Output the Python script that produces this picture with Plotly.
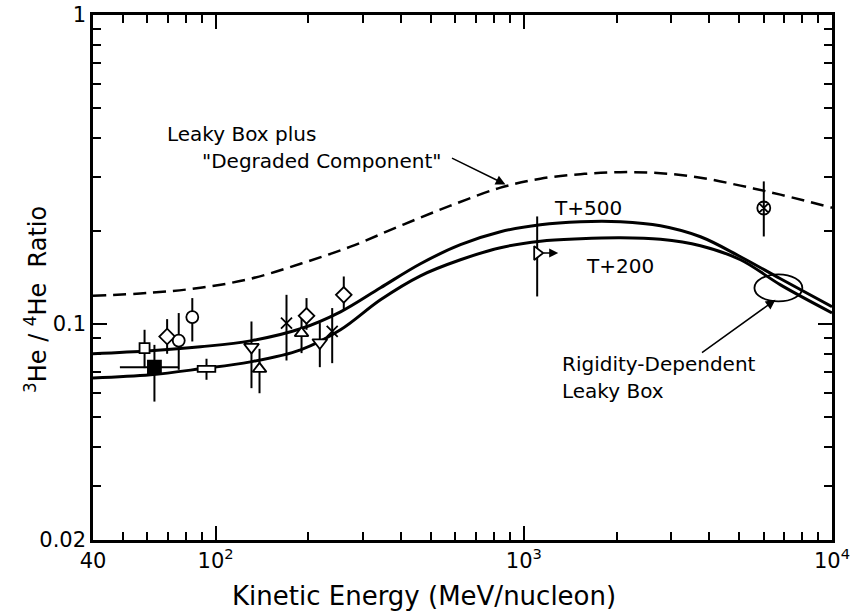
import math
import plotly.graph_objects as go

# ---------------- data ----------------
# Leaky Box plus "Degraded Component" (dashed)
x_lbdc = [40, 61.5, 89.3, 129.7, 188.6, 273.9, 397.9, 578, 839.8, 1132, 1527, 2059, 2776,
          3743, 5047, 6805, 10000]
y_lbdc = [0.1234, 0.1262, 0.1310, 0.1401, 0.1567, 0.1779, 0.2080, 0.2415, 0.2762, 0.2953,
          0.3054, 0.3100, 0.3077, 0.2976, 0.2804, 0.2622, 0.2379]

# Rigidity-dependent leaky box, T+500
x_t500 = [40, 61.5, 89.3, 129.7, 188.6, 254.2, 342.7, 462, 622.9, 839.8, 1132, 1527, 2059,
          2776, 3743, 5047, 6805, 10000]
y_t500 = [0.0801, 0.0819, 0.0844, 0.0882, 0.0965, 0.1095, 0.1310, 0.1567, 0.1806, 0.1989,
          0.2096, 0.2143, 0.2143, 0.2080, 0.1916, 0.1651, 0.1401, 0.1137]

# Rigidity-dependent leaky box, T+200
x_t200 = [40, 61.5, 89.3, 129.7, 188.6, 254.2, 342.7, 462, 622.9, 839.8, 1132, 1527, 2059,
          2776, 3743, 5047, 6805, 10000]
y_t200 = [0.0669, 0.0685, 0.0716, 0.0754, 0.0825, 0.0958, 0.1198, 0.1432, 0.1614, 0.1766,
          0.1854, 0.1888, 0.1902, 0.1881, 0.1792, 0.1614, 0.1339, 0.1087]

# measurements
pt_x = [58.8, 63.3, 69.6, 75.9, 84.0, 130.7, 138.8, 169.8, 190.0, 197.2, 217.8, 238.9, 260.5, 1105, 6007]
pt_y = [0.0836, 0.0725, 0.0911, 0.0884, 0.1053, 0.0842, 0.0716, 0.1007, 0.0934, 0.1063, 0.0871,
        0.0946, 0.1243, 0.1697, 0.2374]
pt_hi = [0.0958, 0.0856, 0.1037, 0.1085, 0.1213, 0.1019, 0.0831, 0.1243, 0.1057, 0.1213, 0.1007,
         0.1126, 0.1425, 0.2229, 0.2894]
pt_lo = [0.0720, 0.0561, 0.0801, 0.0711, 0.0878, 0.0620, 0.0597, 0.0762, 0.0805, 0.0958, 0.0725,
         0.0747, 0.1112, 0.1228, 0.1920]
pt_sym = ["square", "square", "diamond", "circle", "circle", "triangle-down", "triangle-up",
          "x-thin-open", "triangle-up", "diamond", "triangle-down", "x-thin-open", "diamond",
          "triangle-right", "circle-x-open"]
pt_size = [10, 13, 12, 12, 12, 13, 12, 11, 12, 12, 13, 11, 12, 12, 13]
pt_fill = ["white", "black", "white", "white", "white", "white", "white", "black", "white",
           "white", "white", "black", "white", "white", "black"]
# horizontal range for the filled square
sq_xlo, sq_xhi = 48.9, 75.9
# open rectangle point
rect_x, rect_y, rect_hi, rect_lo = 93.4, 0.0716, 0.0772, 0.0660
# lower-limit arrow point index
arrow_idx = 13
# ellipse around model prediction
ell_x, ell_y = 6700, 0.1309

x_tickvals = [40, 100, 1000, 10000]
x_ticktext = ["40", "10<sup>2</sup>", "10<sup>3</sup>", "10<sup>4</sup>"]
x_minor = [50, 60, 70, 80, 90, 200, 300, 400, 500, 600, 700, 800, 900,
           2000, 3000, 4000, 5000, 6000, 7000, 8000, 9000]
y_tickvals = [0.02, 0.1, 1]
y_ticktext = ["0.02", "0.1", "1"]
y_minor = [0.03, 0.04, 0.05, 0.06, 0.07, 0.08, 0.09, 0.2, 0.3, 0.4, 0.5, 0.6, 0.7, 0.8, 0.9]

FONT = "DejaVu Sans"

fig = go.Figure()

fig.add_trace(go.Scatter(x=x_lbdc, y=y_lbdc, mode="lines", line_shape="spline",
                         line=dict(color="black", width=2.5, dash="13px,7px"), showlegend=False))
fig.add_trace(go.Scatter(x=x_t500, y=y_t500, mode="lines", line_shape="spline",
                         line=dict(color="black", width=3), showlegend=False))
fig.add_trace(go.Scatter(x=x_t200, y=y_t200, mode="lines", line_shape="spline",
                         line=dict(color="black", width=3), showlegend=False))

# rectangle point error bar (drawn as a trace without marker)
fig.add_trace(go.Scatter(x=[rect_x], y=[rect_y], mode="markers",
                         marker=dict(size=1, color="rgba(0,0,0,0)"),
                         error_y=dict(type="data", array=[rect_hi - rect_y],
                                      arrayminus=[rect_y - rect_lo], color="black",
                                      thickness=2, width=0),
                         showlegend=False))

for i in range(len(pt_x)):
    ex = None
    if i == 1:
        ex = dict(type="data", array=[sq_xhi - pt_x[i]], arrayminus=[pt_x[i] - sq_xlo],
                  color="black", thickness=2, width=0)
    fig.add_trace(go.Scatter(
        x=[pt_x[i]], y=[pt_y[i]], mode="markers",
        marker=dict(symbol=pt_sym[i], size=pt_size[i], color=pt_fill[i],
                    line=dict(color="black", width=1.8)),
        error_y=dict(type="data", array=[pt_hi[i] - pt_y[i]], arrayminus=[pt_y[i] - pt_lo[i]],
                     color="black", thickness=2, width=0),
        error_x=ex, showlegend=False))

shapes = []
# open rectangle marker
rfx, rfy = 1.068, 1.0226
shapes.append(dict(type="rect", xref="x", yref="y", x0=rect_x / rfx, x1=rect_x * rfx,
                   y0=rect_y / rfy, y1=rect_y * rfy, line=dict(color="black", width=1.8),
                   fillcolor="white", layer="above"))
# ellipse
efx, efy = 1.196, 1.106
shapes.append(dict(type="circle", xref="x", yref="y", x0=ell_x / efx, x1=ell_x * efx,
                   y0=ell_y / efy, y1=ell_y * efy, line=dict(color="black", width=1.8),
                   layer="above"))

L, R, T, B = 93, 19, 15, 75
W, H = 851, 615
PW, PH = W - L - R, H - T - B


def px_x(px):
    return (px - L) / PW


def px_y(py):
    return (H - B - py) / PH


tf = dict(family=FONT, size=20, color="black")
ann = []
ann.append(dict(text="Leaky Box plus", x=px_x(241), y=px_y(134), xref="paper", yref="paper",
                showarrow=False, font=tf, xanchor="center", yanchor="middle"))
ann.append(dict(text="\"Degraded Component\"", x=px_x(321), y=px_y(161), xref="paper",
                yref="paper", showarrow=False, font=tf, xanchor="center", yanchor="middle"))
ann.append(dict(text="T+500", x=px_x(588), y=px_y(208), xref="paper", yref="paper",
                showarrow=False, font=tf, xanchor="center", yanchor="middle"))
ann.append(dict(text="T+200", x=px_x(620), y=px_y(266), xref="paper", yref="paper",
                showarrow=False, font=tf, xanchor="center", yanchor="middle"))
ann.append(dict(text="Rigidity-Dependent", x=px_x(560), y=px_y(364), xref="paper", yref="paper",
                showarrow=False, font=tf, xanchor="left", yanchor="middle"))
ann.append(dict(text="Leaky Box", x=px_x(560), y=px_y(391), xref="paper", yref="paper",
                showarrow=False, font=tf, xanchor="left", yanchor="middle"))
# arrows
ann.append(dict(text="", x=math.log10(872), y=math.log10(0.283), xref="x", yref="y",
                ax=-55, ay=-27, showarrow=True, arrowhead=2, arrowsize=1.3, arrowwidth=1.5,
                arrowcolor="black"))
ann.append(dict(text="", x=math.log10(6556), y=math.log10(0.1198), xref="x", yref="y",
                ax=-75, ay=54, showarrow=True, arrowhead=2, arrowsize=1.3, arrowwidth=1.5,
                arrowcolor="black"))
ann.append(dict(text="", x=math.log10(pt_x[arrow_idx] * 1.17), y=math.log10(pt_y[arrow_idx]),
                xref="x", yref="y", ax=-16, ay=0, showarrow=True, arrowhead=2, arrowsize=1.2,
                arrowwidth=1.5, arrowcolor="black"))
# axis titles
ann.append(dict(text="Kinetic Energy (MeV/nucleon)", x=px_x(424), y=px_y(596), xref="paper",
                yref="paper", showarrow=False, font=dict(family=FONT, size=26, color="black"),
                xanchor="center", yanchor="middle"))
ann.append(dict(text="<sup>3</sup>He / <sup>4</sup>He  Ratio", x=px_x(36), y=px_y(300),
                xref="paper", yref="paper", showarrow=False, textangle=-90,
                font=dict(family=FONT, size=24, color="black"), xanchor="center",
                yanchor="middle"))

axis_common = dict(type="log", showgrid=False, zeroline=False, showline=True, linecolor="black",
                   linewidth=2.5, mirror="ticks", ticks="inside", ticklen=14, tickwidth=1.8,
                   tickcolor="black", tickfont=dict(family=FONT, size=21, color="black"),
                   tickmode="array")

fig.update_layout(
    width=W, height=H, margin=dict(l=L, r=R, t=T, b=B, autoexpand=False),
    plot_bgcolor="white", paper_bgcolor="white", showlegend=False,
    xaxis=dict(range=[math.log10(40), 4], tickvals=x_tickvals, ticktext=x_ticktext,
               minor=dict(tickmode="array", tickvals=x_minor, ticks="inside", ticklen=8,
                          tickwidth=1.8, tickcolor="black", showgrid=False),
               **axis_common),
    yaxis=dict(range=[math.log10(0.02), 0], tickvals=y_tickvals, ticktext=y_ticktext,
               minor=dict(tickmode="array", tickvals=y_minor, ticks="inside", ticklen=8,
                          tickwidth=1.8, tickcolor="black", showgrid=False),
               **axis_common),
    shapes=shapes, annotations=ann,
)

fig.write_html("out.html", config={"displayModeBar": False},
               post_script="document.body.style.margin='0px';")
